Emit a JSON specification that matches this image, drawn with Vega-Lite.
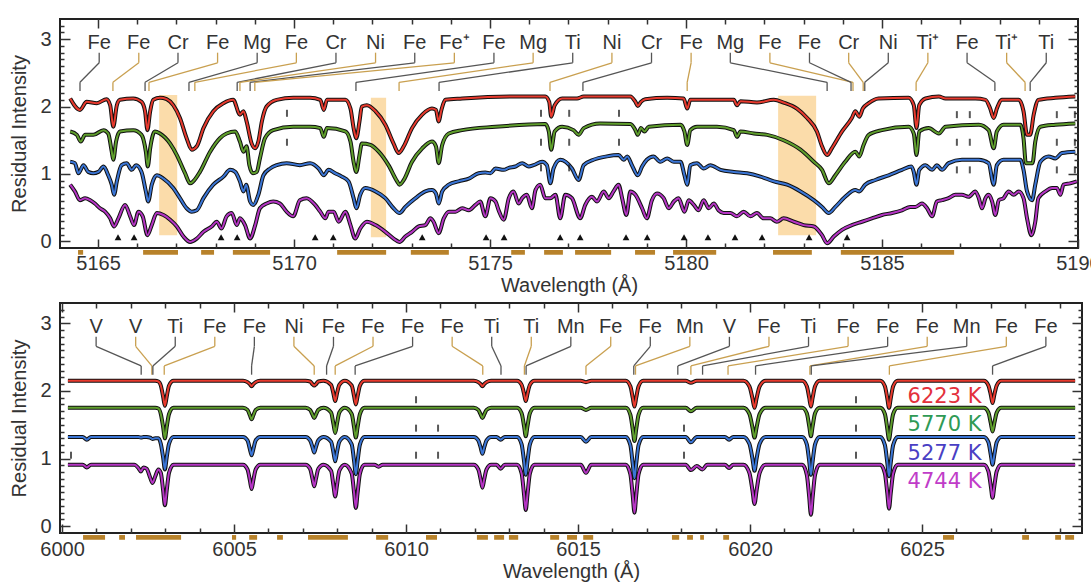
{
"$schema": "https://vega.github.io/schema/vega-lite/v6.json",
"padding": {"left": 8, "top": 14, "right": 0, "bottom": 0},
"spacing": 2,
"config": {
 "font": "Liberation Sans",
 "view": {"stroke": "#222", "strokeWidth": 2},
 "axis": {"domain": false, "grid": false, "labelFont": "Liberation Sans", "labelFontSize": 20, "labelColor": "#333", "titleFont": "Liberation Sans", "titleFontSize": 20, "titleFontWeight": "normal", "titleColor": "#333", "tickColor": "#333", "tickWidth": 1.5, "labelFlush": false, "labelOverlap": false}
},
"datasets": {
 "tspec": [
{"s":"r","x":5164.29,"y":2.12},{"s":"r","x":5164.54,"y":1.95},{"s":"r","x":5164.71,"y":2.07},{"s":"r","x":5164.97,"y":2.05},{"s":"r","x":5165.22,"y":2.11},{"s":"r","x":5165.31,"y":2.02},{"s":"r","x":5165.39,"y":1.70},{"s":"r","x":5165.48,"y":2.02},{"s":"r","x":5165.56,"y":2.10},{"s":"r","x":5165.90,"y":2.12},{"s":"r","x":5166.11,"y":2.07},{"s":"r","x":5166.20,"y":1.93},{"s":"r","x":5166.26,"y":1.65},{"s":"r","x":5166.33,"y":1.93},{"s":"r","x":5166.41,"y":2.10},{"s":"r","x":5166.58,"y":2.13},{"s":"r","x":5166.75,"y":2.11},{"s":"r","x":5166.92,"y":2.02},{"s":"r","x":5167.09,"y":1.83},{"s":"r","x":5167.26,"y":1.53},{"s":"r","x":5167.39,"y":1.36},{"s":"r","x":5167.52,"y":1.41},{"s":"r","x":5167.69,"y":1.68},{"s":"r","x":5167.94,"y":1.93},{"s":"r","x":5168.20,"y":2.05},{"s":"r","x":5168.45,"y":2.10},{"s":"r","x":5168.62,"y":1.88},{"s":"r","x":5168.71,"y":1.93},{"s":"r","x":5168.79,"y":1.78},{"s":"r","x":5168.92,"y":1.45},{"s":"r","x":5169.01,"y":1.38},{"s":"r","x":5169.09,"y":1.48},{"s":"r","x":5169.18,"y":1.78},{"s":"r","x":5169.30,"y":2.00},{"s":"r","x":5169.56,"y":2.10},{"s":"r","x":5169.98,"y":2.13},{"s":"r","x":5170.41,"y":2.13},{"s":"r","x":5170.67,"y":2.10},{"s":"r","x":5170.76,"y":1.95},{"s":"r","x":5170.84,"y":2.10},{"s":"r","x":5171.31,"y":2.10},{"s":"r","x":5171.44,"y":1.97},{"s":"r","x":5171.52,"y":1.68},{"s":"r","x":5171.59,"y":1.53},{"s":"r","x":5171.67,"y":1.78},{"s":"r","x":5171.73,"y":2.00},{"s":"r","x":5171.86,"y":2.02},{"s":"r","x":5172.08,"y":1.93},{"s":"r","x":5172.33,"y":1.73},{"s":"r","x":5172.54,"y":1.45},{"s":"r","x":5172.67,"y":1.31},{"s":"r","x":5172.80,"y":1.41},{"s":"r","x":5173.01,"y":1.68},{"s":"r","x":5173.27,"y":1.88},{"s":"r","x":5173.52,"y":1.97},{"s":"r","x":5173.62,"y":1.95},{"s":"r","x":5173.69,"y":1.78},{"s":"r","x":5173.76,"y":1.95},{"s":"r","x":5173.86,"y":2.10},{"s":"r","x":5174.29,"y":2.12},{"s":"r","x":5175.56,"y":2.15},{"s":"r","x":5176.41,"y":2.15},{"s":"r","x":5176.51,"y":2.07},{"s":"r","x":5176.56,"y":1.85},{"s":"r","x":5176.65,"y":2.02},{"s":"r","x":5176.84,"y":2.12},{"s":"r","x":5177.22,"y":2.12},{"s":"r","x":5177.39,"y":2.15},{"s":"r","x":5178.58,"y":2.15},{"s":"r","x":5178.71,"y":2.07},{"s":"r","x":5178.77,"y":2.01},{"s":"r","x":5178.85,"y":2.07},{"s":"r","x":5178.96,"y":2.11},{"s":"r","x":5179.52,"y":2.13},{"s":"r","x":5179.94,"y":2.12},{"s":"r","x":5180.03,"y":1.97},{"s":"r","x":5180.11,"y":2.10},{"s":"r","x":5181.22,"y":2.10},{"s":"r","x":5181.30,"y":2.02},{"s":"r","x":5181.39,"y":2.08},{"s":"r","x":5181.81,"y":2.06},{"s":"r","x":5182.24,"y":2.10},{"s":"r","x":5182.49,"y":2.06},{"s":"r","x":5182.83,"y":1.97},{"s":"r","x":5183.09,"y":1.83},{"s":"r","x":5183.34,"y":1.63},{"s":"r","x":5183.47,"y":1.41},{"s":"r","x":5183.60,"y":1.28},{"s":"r","x":5183.72,"y":1.38},{"s":"r","x":5183.98,"y":1.63},{"s":"r","x":5184.23,"y":1.83},{"s":"r","x":5184.32,"y":1.93},{"s":"r","x":5184.42,"y":1.85},{"s":"r","x":5184.51,"y":1.97},{"s":"r","x":5184.66,"y":2.05},{"s":"r","x":5184.91,"y":2.12},{"s":"r","x":5185.68,"y":2.13},{"s":"r","x":5185.81,"y":2.02},{"s":"r","x":5185.88,"y":1.68},{"s":"r","x":5185.95,"y":2.02},{"s":"r","x":5186.11,"y":2.12},{"s":"r","x":5186.45,"y":2.15},{"s":"r","x":5186.62,"y":2.12},{"s":"r","x":5187.38,"y":2.12},{"s":"r","x":5187.64,"y":2.10},{"s":"r","x":5187.76,"y":1.97},{"s":"r","x":5187.85,"y":1.83},{"s":"r","x":5187.93,"y":1.97},{"s":"r","x":5188.06,"y":2.10},{"s":"r","x":5188.49,"y":2.10},{"s":"r","x":5188.61,"y":1.93},{"s":"r","x":5188.70,"y":1.58},{"s":"r","x":5188.78,"y":1.58},{"s":"r","x":5188.87,"y":1.88},{"s":"r","x":5188.99,"y":2.10},{"s":"r","x":5189.42,"y":2.13},{"s":"r","x":5189.93,"y":2.15},
{"s":"g","x":5164.29,"y":1.63},{"s":"g","x":5164.46,"y":1.58},{"s":"g","x":5164.56,"y":1.48},{"s":"g","x":5164.67,"y":1.58},{"s":"g","x":5164.88,"y":1.58},{"s":"g","x":5165.14,"y":1.65},{"s":"g","x":5165.26,"y":1.60},{"s":"g","x":5165.35,"y":1.33},{"s":"g","x":5165.39,"y":1.21},{"s":"g","x":5165.46,"y":1.48},{"s":"g","x":5165.56,"y":1.63},{"s":"g","x":5165.90,"y":1.65},{"s":"g","x":5166.11,"y":1.58},{"s":"g","x":5166.22,"y":1.33},{"s":"g","x":5166.27,"y":1.11},{"s":"g","x":5166.33,"y":1.38},{"s":"g","x":5166.45,"y":1.63},{"s":"g","x":5166.58,"y":1.60},{"s":"g","x":5166.84,"y":1.45},{"s":"g","x":5167.01,"y":1.28},{"s":"g","x":5167.22,"y":1.01},{"s":"g","x":5167.35,"y":0.86},{"s":"g","x":5167.43,"y":0.89},{"s":"g","x":5167.60,"y":1.03},{"s":"g","x":5167.86,"y":1.33},{"s":"g","x":5168.11,"y":1.53},{"s":"g","x":5168.28,"y":1.60},{"s":"g","x":5168.50,"y":1.63},{"s":"g","x":5168.62,"y":1.48},{"s":"g","x":5168.71,"y":1.33},{"s":"g","x":5168.79,"y":1.41},{"s":"g","x":5168.86,"y":1.13},{"s":"g","x":5168.95,"y":1.01},{"s":"g","x":5169.05,"y":1.03},{"s":"g","x":5169.13,"y":1.23},{"s":"g","x":5169.26,"y":1.53},{"s":"g","x":5169.47,"y":1.65},{"s":"g","x":5169.98,"y":1.70},{"s":"g","x":5170.41,"y":1.70},{"s":"g","x":5170.67,"y":1.68},{"s":"g","x":5170.76,"y":1.55},{"s":"g","x":5170.84,"y":1.68},{"s":"g","x":5171.31,"y":1.63},{"s":"g","x":5171.44,"y":1.48},{"s":"g","x":5171.52,"y":1.18},{"s":"g","x":5171.59,"y":1.03},{"s":"g","x":5171.67,"y":1.28},{"s":"g","x":5171.73,"y":1.45},{"s":"g","x":5171.95,"y":1.43},{"s":"g","x":5172.16,"y":1.33},{"s":"g","x":5172.41,"y":1.13},{"s":"g","x":5172.63,"y":0.89},{"s":"g","x":5172.69,"y":0.84},{"s":"g","x":5172.80,"y":0.91},{"s":"g","x":5173.01,"y":1.18},{"s":"g","x":5173.27,"y":1.38},{"s":"g","x":5173.52,"y":1.48},{"s":"g","x":5173.62,"y":1.41},{"s":"g","x":5173.69,"y":1.16},{"s":"g","x":5173.78,"y":1.43},{"s":"g","x":5173.95,"y":1.60},{"s":"g","x":5174.29,"y":1.65},{"s":"g","x":5175.14,"y":1.70},{"s":"g","x":5176.41,"y":1.74},{"s":"g","x":5176.50,"y":1.63},{"s":"g","x":5176.56,"y":1.36},{"s":"g","x":5176.65,"y":1.63},{"s":"g","x":5176.84,"y":1.70},{"s":"g","x":5177.13,"y":1.65},{"s":"g","x":5177.26,"y":1.58},{"s":"g","x":5177.39,"y":1.68},{"s":"g","x":5177.81,"y":1.75},{"s":"g","x":5178.58,"y":1.74},{"s":"g","x":5178.71,"y":1.65},{"s":"g","x":5178.77,"y":1.58},{"s":"g","x":5178.85,"y":1.68},{"s":"g","x":5178.94,"y":1.63},{"s":"g","x":5179.05,"y":1.70},{"s":"g","x":5179.86,"y":1.73},{"s":"g","x":5179.96,"y":1.63},{"s":"g","x":5180.03,"y":1.43},{"s":"g","x":5180.11,"y":1.65},{"s":"g","x":5180.28,"y":1.70},{"s":"g","x":5180.79,"y":1.70},{"s":"g","x":5181.22,"y":1.65},{"s":"g","x":5181.30,"y":1.55},{"s":"g","x":5181.39,"y":1.63},{"s":"g","x":5181.73,"y":1.60},{"s":"g","x":5182.07,"y":1.58},{"s":"g","x":5182.49,"y":1.50},{"s":"g","x":5182.92,"y":1.36},{"s":"g","x":5183.26,"y":1.18},{"s":"g","x":5183.47,"y":1.06},{"s":"g","x":5183.64,"y":0.86},{"s":"g","x":5183.81,"y":0.98},{"s":"g","x":5184.06,"y":1.18},{"s":"g","x":5184.32,"y":1.33},{"s":"g","x":5184.42,"y":1.26},{"s":"g","x":5184.53,"y":1.43},{"s":"g","x":5184.66,"y":1.58},{"s":"g","x":5185.00,"y":1.65},{"s":"g","x":5185.68,"y":1.70},{"s":"g","x":5185.81,"y":1.60},{"s":"g","x":5185.88,"y":1.28},{"s":"g","x":5185.95,"y":1.63},{"s":"g","x":5186.19,"y":1.68},{"s":"g","x":5186.45,"y":1.60},{"s":"g","x":5186.62,"y":1.70},{"s":"g","x":5187.47,"y":1.73},{"s":"g","x":5187.72,"y":1.65},{"s":"g","x":5187.85,"y":1.38},{"s":"g","x":5187.93,"y":1.63},{"s":"g","x":5188.10,"y":1.73},{"s":"g","x":5188.53,"y":1.73},{"s":"g","x":5188.61,"y":1.53},{"s":"g","x":5188.67,"y":1.16},{"s":"g","x":5188.84,"y":1.16},{"s":"g","x":5188.91,"y":1.48},{"s":"g","x":5189.04,"y":1.70},{"s":"g","x":5189.42,"y":1.73},{"s":"g","x":5189.93,"y":1.75},
{"s":"b","x":5164.29,"y":1.18},{"s":"b","x":5164.41,"y":1.16},{"s":"b","x":5164.50,"y":1.01},{"s":"b","x":5164.63,"y":1.13},{"s":"b","x":5164.75,"y":1.03},{"s":"b","x":5164.88,"y":1.01},{"s":"b","x":5165.01,"y":1.03},{"s":"b","x":5165.14,"y":1.11},{"s":"b","x":5165.26,"y":0.98},{"s":"b","x":5165.35,"y":0.84},{"s":"b","x":5165.41,"y":0.69},{"s":"b","x":5165.48,"y":0.89},{"s":"b","x":5165.60,"y":1.13},{"s":"b","x":5165.73,"y":1.16},{"s":"b","x":5165.86,"y":1.06},{"s":"b","x":5165.97,"y":1.13},{"s":"b","x":5166.11,"y":1.03},{"s":"b","x":5166.22,"y":0.74},{"s":"b","x":5166.28,"y":0.59},{"s":"b","x":5166.37,"y":0.84},{"s":"b","x":5166.50,"y":0.98},{"s":"b","x":5166.67,"y":0.93},{"s":"b","x":5166.92,"y":0.79},{"s":"b","x":5167.09,"y":0.64},{"s":"b","x":5167.26,"y":0.49},{"s":"b","x":5167.39,"y":0.44},{"s":"b","x":5167.52,"y":0.46},{"s":"b","x":5167.69,"y":0.64},{"s":"b","x":5167.94,"y":0.84},{"s":"b","x":5168.20,"y":0.96},{"s":"b","x":5168.37,"y":1.06},{"s":"b","x":5168.50,"y":1.03},{"s":"b","x":5168.62,"y":0.89},{"s":"b","x":5168.71,"y":0.74},{"s":"b","x":5168.78,"y":0.84},{"s":"b","x":5168.88,"y":0.59},{"s":"b","x":5168.96,"y":0.54},{"s":"b","x":5169.09,"y":0.69},{"s":"b","x":5169.22,"y":0.98},{"s":"b","x":5169.39,"y":1.08},{"s":"b","x":5169.56,"y":1.13},{"s":"b","x":5169.81,"y":1.16},{"s":"b","x":5170.15,"y":1.13},{"s":"b","x":5170.41,"y":1.16},{"s":"b","x":5170.63,"y":1.08},{"s":"b","x":5170.76,"y":0.98},{"s":"b","x":5170.88,"y":1.06},{"s":"b","x":5171.05,"y":1.01},{"s":"b","x":5171.22,"y":0.96},{"s":"b","x":5171.39,"y":0.89},{"s":"b","x":5171.52,"y":0.64},{"s":"b","x":5171.59,"y":0.49},{"s":"b","x":5171.69,"y":0.69},{"s":"b","x":5171.82,"y":0.79},{"s":"b","x":5172.08,"y":0.74},{"s":"b","x":5172.33,"y":0.64},{"s":"b","x":5172.54,"y":0.49},{"s":"b","x":5172.69,"y":0.42},{"s":"b","x":5172.84,"y":0.51},{"s":"b","x":5173.10,"y":0.64},{"s":"b","x":5173.35,"y":0.74},{"s":"b","x":5173.52,"y":0.76},{"s":"b","x":5173.62,"y":0.71},{"s":"b","x":5173.69,"y":0.56},{"s":"b","x":5173.78,"y":0.74},{"s":"b","x":5173.95,"y":0.84},{"s":"b","x":5174.20,"y":0.89},{"s":"b","x":5174.46,"y":0.93},{"s":"b","x":5174.71,"y":1.01},{"s":"b","x":5174.88,"y":1.02},{"s":"b","x":5175.01,"y":1.01},{"s":"b","x":5175.14,"y":1.08},{"s":"b","x":5175.35,"y":1.06},{"s":"b","x":5175.48,"y":1.09},{"s":"b","x":5175.65,"y":1.11},{"s":"b","x":5175.82,"y":1.16},{"s":"b","x":5175.99,"y":1.11},{"s":"b","x":5176.11,"y":1.13},{"s":"b","x":5176.33,"y":1.18},{"s":"b","x":5176.45,"y":1.13},{"s":"b","x":5176.54,"y":0.86},{"s":"b","x":5176.62,"y":1.08},{"s":"b","x":5176.79,"y":1.21},{"s":"b","x":5177.09,"y":1.08},{"s":"b","x":5177.26,"y":0.91},{"s":"b","x":5177.39,"y":1.13},{"s":"b","x":5177.64,"y":1.21},{"s":"b","x":5177.98,"y":1.26},{"s":"b","x":5178.28,"y":1.28},{"s":"b","x":5178.41,"y":1.21},{"s":"b","x":5178.50,"y":1.26},{"s":"b","x":5178.62,"y":1.13},{"s":"b","x":5178.77,"y":0.98},{"s":"b","x":5178.88,"y":1.11},{"s":"b","x":5179.00,"y":1.21},{"s":"b","x":5179.17,"y":1.26},{"s":"b","x":5179.34,"y":1.18},{"s":"b","x":5179.52,"y":1.23},{"s":"b","x":5179.69,"y":1.18},{"s":"b","x":5179.86,"y":1.18},{"s":"b","x":5179.96,"y":0.98},{"s":"b","x":5180.03,"y":0.84},{"s":"b","x":5180.11,"y":1.13},{"s":"b","x":5180.28,"y":1.16},{"s":"b","x":5180.45,"y":1.08},{"s":"b","x":5180.62,"y":1.13},{"s":"b","x":5180.88,"y":1.06},{"s":"b","x":5181.22,"y":1.03},{"s":"b","x":5181.56,"y":1.01},{"s":"b","x":5181.90,"y":0.96},{"s":"b","x":5182.24,"y":0.89},{"s":"b","x":5182.58,"y":0.84},{"s":"b","x":5182.92,"y":0.74},{"s":"b","x":5183.26,"y":0.61},{"s":"b","x":5183.47,"y":0.51},{"s":"b","x":5183.64,"y":0.42},{"s":"b","x":5183.81,"y":0.51},{"s":"b","x":5184.06,"y":0.66},{"s":"b","x":5184.32,"y":0.76},{"s":"b","x":5184.42,"y":0.74},{"s":"b","x":5184.57,"y":0.84},{"s":"b","x":5184.83,"y":0.91},{"s":"b","x":5185.17,"y":0.98},{"s":"b","x":5185.51,"y":1.06},{"s":"b","x":5185.75,"y":1.11},{"s":"b","x":5185.81,"y":1.03},{"s":"b","x":5185.88,"y":0.84},{"s":"b","x":5185.95,"y":1.06},{"s":"b","x":5186.11,"y":1.13},{"s":"b","x":5186.28,"y":1.06},{"s":"b","x":5186.40,"y":1.13},{"s":"b","x":5186.53,"y":1.06},{"s":"b","x":5186.70,"y":1.16},{"s":"b","x":5187.04,"y":1.21},{"s":"b","x":5187.47,"y":1.21},{"s":"b","x":5187.72,"y":1.16},{"s":"b","x":5187.85,"y":0.84},{"s":"b","x":5187.93,"y":1.13},{"s":"b","x":5188.10,"y":1.21},{"s":"b","x":5188.53,"y":1.21},{"s":"b","x":5188.61,"y":1.06},{"s":"b","x":5188.70,"y":0.74},{"s":"b","x":5188.83,"y":0.61},{"s":"b","x":5188.91,"y":0.84},{"s":"b","x":5189.04,"y":1.18},{"s":"b","x":5189.25,"y":1.26},{"s":"b","x":5189.42,"y":1.23},{"s":"b","x":5189.59,"y":1.31},{"s":"b","x":5189.93,"y":1.33},
{"s":"m","x":5164.29,"y":0.84},{"s":"m","x":5164.41,"y":0.74},{"s":"m","x":5164.54,"y":0.61},{"s":"m","x":5164.67,"y":0.64},{"s":"m","x":5164.80,"y":0.61},{"s":"m","x":5164.92,"y":0.56},{"s":"m","x":5165.05,"y":0.49},{"s":"m","x":5165.18,"y":0.44},{"s":"m","x":5165.31,"y":0.34},{"s":"m","x":5165.41,"y":0.22},{"s":"m","x":5165.52,"y":0.34},{"s":"m","x":5165.69,"y":0.54},{"s":"m","x":5165.82,"y":0.37},{"s":"m","x":5165.92,"y":0.24},{"s":"m","x":5166.03,"y":0.44},{"s":"m","x":5166.14,"y":0.37},{"s":"m","x":5166.26,"y":0.09},{"s":"m","x":5166.37,"y":0.24},{"s":"m","x":5166.50,"y":0.42},{"s":"m","x":5166.67,"y":0.39},{"s":"m","x":5166.84,"y":0.32},{"s":"m","x":5167.01,"y":0.22},{"s":"m","x":5167.18,"y":0.07},{"s":"m","x":5167.35,"y":-0.01},{"s":"m","x":5167.52,"y":0.04},{"s":"m","x":5167.69,"y":0.14},{"s":"m","x":5167.90,"y":0.22},{"s":"m","x":5168.03,"y":0.29},{"s":"m","x":5168.15,"y":0.19},{"s":"m","x":5168.28,"y":0.37},{"s":"m","x":5168.41,"y":0.42},{"s":"m","x":5168.54,"y":0.24},{"s":"m","x":5168.62,"y":0.34},{"s":"m","x":5168.75,"y":0.24},{"s":"m","x":5168.88,"y":0.04},{"s":"m","x":5169.01,"y":0.24},{"s":"m","x":5169.13,"y":0.49},{"s":"m","x":5169.30,"y":0.56},{"s":"m","x":5169.47,"y":0.59},{"s":"m","x":5169.64,"y":0.56},{"s":"m","x":5169.81,"y":0.44},{"s":"m","x":5169.98,"y":0.37},{"s":"m","x":5170.15,"y":0.61},{"s":"m","x":5170.32,"y":0.64},{"s":"m","x":5170.54,"y":0.54},{"s":"m","x":5170.67,"y":0.44},{"s":"m","x":5170.80,"y":0.34},{"s":"m","x":5170.88,"y":0.44},{"s":"m","x":5171.01,"y":0.44},{"s":"m","x":5171.14,"y":0.29},{"s":"m","x":5171.31,"y":0.44},{"s":"m","x":5171.44,"y":0.24},{"s":"m","x":5171.56,"y":0.04},{"s":"m","x":5171.69,"y":0.19},{"s":"m","x":5171.86,"y":0.29},{"s":"m","x":5172.08,"y":0.24},{"s":"m","x":5172.33,"y":0.14},{"s":"m","x":5172.54,"y":0.04},{"s":"m","x":5172.69,"y":-0.01},{"s":"m","x":5172.84,"y":0.07},{"s":"m","x":5173.01,"y":0.14},{"s":"m","x":5173.18,"y":0.22},{"s":"m","x":5173.35,"y":0.24},{"s":"m","x":5173.48,"y":0.34},{"s":"m","x":5173.56,"y":0.29},{"s":"m","x":5173.69,"y":0.12},{"s":"m","x":5173.82,"y":0.34},{"s":"m","x":5173.95,"y":0.44},{"s":"m","x":5174.12,"y":0.44},{"s":"m","x":5174.29,"y":0.49},{"s":"m","x":5174.46,"y":0.46},{"s":"m","x":5174.63,"y":0.54},{"s":"m","x":5174.75,"y":0.59},{"s":"m","x":5174.88,"y":0.37},{"s":"m","x":5175.01,"y":0.64},{"s":"m","x":5175.14,"y":0.59},{"s":"m","x":5175.22,"y":0.46},{"s":"m","x":5175.35,"y":0.32},{"s":"m","x":5175.48,"y":0.64},{"s":"m","x":5175.60,"y":0.74},{"s":"m","x":5175.73,"y":0.56},{"s":"m","x":5175.82,"y":0.64},{"s":"m","x":5175.94,"y":0.69},{"s":"m","x":5176.07,"y":0.49},{"s":"m","x":5176.16,"y":0.76},{"s":"m","x":5176.28,"y":0.84},{"s":"m","x":5176.41,"y":0.64},{"s":"m","x":5176.54,"y":0.64},{"s":"m","x":5176.67,"y":0.69},{"s":"m","x":5176.79,"y":0.34},{"s":"m","x":5176.92,"y":0.69},{"s":"m","x":5177.09,"y":0.64},{"s":"m","x":5177.30,"y":0.34},{"s":"m","x":5177.43,"y":0.54},{"s":"m","x":5177.60,"y":0.66},{"s":"m","x":5177.73,"y":0.59},{"s":"m","x":5177.90,"y":0.74},{"s":"m","x":5178.03,"y":0.64},{"s":"m","x":5178.15,"y":0.74},{"s":"m","x":5178.28,"y":0.84},{"s":"m","x":5178.37,"y":0.64},{"s":"m","x":5178.48,"y":0.39},{"s":"m","x":5178.58,"y":0.74},{"s":"m","x":5178.71,"y":0.69},{"s":"m","x":5178.88,"y":0.49},{"s":"m","x":5179.00,"y":0.34},{"s":"m","x":5179.13,"y":0.61},{"s":"m","x":5179.26,"y":0.71},{"s":"m","x":5179.43,"y":0.64},{"s":"m","x":5179.56,"y":0.49},{"s":"m","x":5179.69,"y":0.59},{"s":"m","x":5179.81,"y":0.64},{"s":"m","x":5179.96,"y":0.44},{"s":"m","x":5180.07,"y":0.61},{"s":"m","x":5180.20,"y":0.54},{"s":"m","x":5180.32,"y":0.46},{"s":"m","x":5180.45,"y":0.61},{"s":"m","x":5180.58,"y":0.49},{"s":"m","x":5180.71,"y":0.56},{"s":"m","x":5180.83,"y":0.46},{"s":"m","x":5180.96,"y":0.42},{"s":"m","x":5181.13,"y":0.42},{"s":"m","x":5181.30,"y":0.37},{"s":"m","x":5181.47,"y":0.44},{"s":"m","x":5181.64,"y":0.37},{"s":"m","x":5181.81,"y":0.42},{"s":"m","x":5181.98,"y":0.34},{"s":"m","x":5182.15,"y":0.34},{"s":"m","x":5182.32,"y":0.29},{"s":"m","x":5182.49,"y":0.34},{"s":"m","x":5182.75,"y":0.29},{"s":"m","x":5183.00,"y":0.24},{"s":"m","x":5183.26,"y":0.22},{"s":"m","x":5183.47,"y":0.09},{"s":"m","x":5183.60,"y":-0.03},{"s":"m","x":5183.77,"y":0.07},{"s":"m","x":5183.98,"y":0.17},{"s":"m","x":5184.23,"y":0.24},{"s":"m","x":5184.49,"y":0.29},{"s":"m","x":5184.74,"y":0.34},{"s":"m","x":5185.00,"y":0.39},{"s":"m","x":5185.26,"y":0.42},{"s":"m","x":5185.51,"y":0.46},{"s":"m","x":5185.72,"y":0.51},{"s":"m","x":5185.85,"y":0.51},{"s":"m","x":5186.02,"y":0.56},{"s":"m","x":5186.15,"y":0.49},{"s":"m","x":5186.28,"y":0.37},{"s":"m","x":5186.40,"y":0.59},{"s":"m","x":5186.53,"y":0.61},{"s":"m","x":5186.70,"y":0.64},{"s":"m","x":5186.87,"y":0.69},{"s":"m","x":5187.04,"y":0.69},{"s":"m","x":5187.21,"y":0.66},{"s":"m","x":5187.38,"y":0.74},{"s":"m","x":5187.47,"y":0.64},{"s":"m","x":5187.55,"y":0.49},{"s":"m","x":5187.64,"y":0.64},{"s":"m","x":5187.72,"y":0.69},{"s":"m","x":5187.81,"y":0.59},{"s":"m","x":5187.89,"y":0.39},{"s":"m","x":5187.98,"y":0.61},{"s":"m","x":5188.10,"y":0.64},{"s":"m","x":5188.23,"y":0.74},{"s":"m","x":5188.36,"y":0.69},{"s":"m","x":5188.49,"y":0.74},{"s":"m","x":5188.61,"y":0.64},{"s":"m","x":5188.70,"y":0.34},{"s":"m","x":5188.81,"y":0.09},{"s":"m","x":5188.91,"y":0.29},{"s":"m","x":5188.99,"y":0.64},{"s":"m","x":5189.17,"y":0.74},{"s":"m","x":5189.34,"y":0.79},{"s":"m","x":5189.46,"y":0.79},{"s":"m","x":5189.55,"y":0.69},{"s":"m","x":5189.63,"y":0.84},{"s":"m","x":5189.80,"y":0.86},{"s":"m","x":5189.97,"y":0.89}
 ],
 "bspec": [
{"x":6000.17,"r":2.15,"g":1.75,"b":1.32,"m":0.91},{"x":6000.60,"r":2.15,"g":1.75,"b":1.32,"m":0.91},{"x":6000.72,"r":2.15,"g":1.75,"b":1.28,"m":0.87},{"x":6000.84,"r":2.15,"g":1.75,"b":1.32,"m":0.91},
{"x":6002.10,"r":2.15,"g":1.75,"b":1.32,"m":0.91},{"x":6002.22,"r":2.15,"g":1.75,"b":1.32,"m":0.86},{"x":6002.29,"r":2.15,"g":1.75,"b":1.31,"m":0.81},{"x":6002.37,"r":2.15,"g":1.75,"b":1.32,"m":0.87},{"x":6002.46,"r":2.15,"g":1.75,"b":1.32,"m":0.85},{"x":6002.56,"r":2.15,"g":1.75,"b":1.31,"m":0.72},{"x":6002.63,"r":2.15,"g":1.75,"b":1.29,"m":0.64},{"x":6002.71,"r":2.15,"g":1.75,"b":1.30,"m":0.74},{"x":6002.80,"r":2.14,"g":1.74,"b":1.30,"m":0.84},{"x":6002.87,"r":2.08,"g":1.66,"b":1.22,"m":0.79},{"x":6002.94,"r":1.91,"g":1.46,"b":1.01,"m":0.52},{"x":6002.99,"r":1.78,"g":1.30,"b":0.84,"m":0.31},{"x":6003.04,"r":1.91,"g":1.46,"b":1.01,"m":0.52},{"x":6003.11,"r":2.08,"g":1.66,"b":1.22,"m":0.79},{"x":6003.24,"r":2.15,"g":1.75,"b":1.32,"m":0.91},
{"x":6005.26,"r":2.15,"g":1.75,"b":1.32,"m":0.91},{"x":6005.39,"r":2.13,"g":1.72,"b":1.27,"m":0.84},{"x":6005.46,"r":2.10,"g":1.64,"b":1.14,"m":0.68},{"x":6005.51,"r":2.07,"g":1.58,"b":1.05,"m":0.55},{"x":6005.56,"r":2.10,"g":1.64,"b":1.14,"m":0.68},{"x":6005.63,"r":2.13,"g":1.72,"b":1.27,"m":0.84},{"x":6005.76,"r":2.15,"g":1.75,"b":1.32,"m":0.91},
{"x":6007.08,"r":2.15,"g":1.75,"b":1.32,"m":0.91},{"x":6007.21,"r":2.14,"g":1.72,"b":1.27,"m":0.85},{"x":6007.28,"r":2.10,"g":1.65,"b":1.17,"m":0.70},{"x":6007.33,"r":2.08,"g":1.60,"b":1.09,"m":0.59},{"x":6007.38,"r":2.10,"g":1.65,"b":1.17,"m":0.70},{"x":6007.45,"r":2.14,"g":1.72,"b":1.27,"m":0.85},{"x":6007.60,"r":2.15,"g":1.75,"b":1.32,"m":0.91},
{"x":6007.82,"r":2.09,"g":1.68,"b":1.25,"m":0.82},{"x":6007.89,"r":1.96,"g":1.51,"b":1.09,"m":0.60},{"x":6007.94,"r":1.85,"g":1.38,"b":0.96,"m":0.44},{"x":6007.99,"r":1.96,"g":1.51,"b":1.09,"m":0.60},{"x":6008.06,"r":2.09,"g":1.68,"b":1.25,"m":0.82},{"x":6008.22,"r":2.15,"g":1.75,"b":1.32,"m":0.91},
{"x":6008.42,"r":2.08,"g":1.66,"b":1.21,"m":0.78},{"x":6008.49,"r":1.92,"g":1.46,"b":0.96,"m":0.49},{"x":6008.54,"r":1.80,"g":1.31,"b":0.77,"m":0.27},{"x":6008.59,"r":1.92,"g":1.46,"b":0.96,"m":0.49},{"x":6008.66,"r":2.08,"g":1.66,"b":1.21,"m":0.78},{"x":6008.79,"r":2.15,"g":1.75,"b":1.32,"m":0.91},
{"x":6009.08,"r":2.15,"g":1.75,"b":1.32,"m":0.91},{"x":6009.20,"r":2.15,"g":1.75,"b":1.32,"m":0.88},{"x":6009.32,"r":2.15,"g":1.75,"b":1.32,"m":0.91},
{"x":6011.97,"r":2.15,"g":1.75,"b":1.32,"m":0.91},{"x":6012.10,"r":2.13,"g":1.72,"b":1.27,"m":0.84},{"x":6012.17,"r":2.10,"g":1.65,"b":1.16,"m":0.69},{"x":6012.22,"r":2.07,"g":1.60,"b":1.07,"m":0.57},{"x":6012.27,"r":2.10,"g":1.65,"b":1.16,"m":0.69},{"x":6012.34,"r":2.13,"g":1.72,"b":1.27,"m":0.84},{"x":6012.47,"r":2.15,"g":1.75,"b":1.32,"m":0.91},
{"x":6012.63,"r":2.15,"g":1.75,"b":1.32,"m":0.91},{"x":6012.75,"r":2.15,"g":1.75,"b":1.28,"m":0.85},{"x":6012.87,"r":2.15,"g":1.75,"b":1.32,"m":0.91},
{"x":6013.23,"r":2.15,"g":1.75,"b":1.32,"m":0.91},{"x":6013.36,"r":2.09,"g":1.67,"b":1.21,"m":0.78},{"x":6013.43,"r":1.96,"g":1.48,"b":0.96,"m":0.47},{"x":6013.48,"r":1.85,"g":1.33,"b":0.76,"m":0.24},{"x":6013.53,"r":1.96,"g":1.48,"b":0.96,"m":0.47},{"x":6013.60,"r":2.09,"g":1.67,"b":1.21,"m":0.78},{"x":6013.73,"r":2.15,"g":1.75,"b":1.32,"m":0.91},
{"x":6015.08,"r":2.15,"g":1.75,"b":1.32,"m":0.91},{"x":6015.23,"r":2.13,"g":1.72,"b":1.25,"m":0.79},{"x":6015.38,"r":2.15,"g":1.75,"b":1.32,"m":0.91},
{"x":6016.39,"r":2.15,"g":1.75,"b":1.32,"m":0.91},{"x":6016.52,"r":2.07,"g":1.65,"b":1.20,"m":0.77},{"x":6016.59,"r":1.90,"g":1.43,"b":0.92,"m":0.45},{"x":6016.64,"r":1.77,"g":1.26,"b":0.71,"m":0.20},{"x":6016.69,"r":1.90,"g":1.43,"b":0.92,"m":0.45},{"x":6016.76,"r":2.07,"g":1.65,"b":1.20,"m":0.77},{"x":6016.89,"r":2.15,"g":1.75,"b":1.32,"m":0.91},
{"x":6018.13,"r":2.15,"g":1.75,"b":1.32,"m":0.91},{"x":6018.28,"r":2.12,"g":1.70,"b":1.24,"m":0.83},{"x":6018.45,"r":2.15,"g":1.75,"b":1.32,"m":0.89},{"x":6018.62,"r":2.15,"g":1.75,"b":1.32,"m":0.84},{"x":6018.75,"r":2.15,"g":1.75,"b":1.32,"m":0.91},
{"x":6019.27,"r":2.15,"g":1.75,"b":1.32,"m":0.91},{"x":6019.39,"r":2.15,"g":1.75,"b":1.28,"m":0.86},{"x":6019.51,"r":2.15,"g":1.75,"b":1.32,"m":0.91},
{"x":6019.81,"r":2.15,"g":1.75,"b":1.32,"m":0.91},{"x":6019.98,"r":2.07,"g":1.66,"b":1.22,"m":0.79},{"x":6020.07,"r":1.89,"g":1.46,"b":1.00,"m":0.53},{"x":6020.13,"r":1.75,"g":1.31,"b":0.82,"m":0.33},{"x":6020.19,"r":1.89,"g":1.46,"b":1.00,"m":0.53},{"x":6020.28,"r":2.07,"g":1.66,"b":1.22,"m":0.79},{"x":6020.45,"r":2.15,"g":1.75,"b":1.32,"m":0.91},
{"x":6021.52,"r":2.15,"g":1.75,"b":1.32,"m":0.91},{"x":6021.65,"r":2.07,"g":1.67,"b":1.21,"m":0.76},{"x":6021.72,"r":1.90,"g":1.48,"b":0.96,"m":0.43},{"x":6021.77,"r":1.77,"g":1.33,"b":0.76,"m":0.17},{"x":6021.82,"r":1.90,"g":1.48,"b":0.96,"m":0.43},{"x":6021.89,"r":2.07,"g":1.67,"b":1.21,"m":0.76},{"x":6022.02,"r":2.15,"g":1.75,"b":1.32,"m":0.91},
{"x":6023.79,"r":2.15,"g":1.75,"b":1.32,"m":0.91},{"x":6023.92,"r":2.07,"g":1.66,"b":1.20,"m":0.78},{"x":6023.99,"r":1.89,"g":1.44,"b":0.94,"m":0.49},{"x":6024.04,"r":1.75,"g":1.28,"b":0.74,"m":0.26},{"x":6024.09,"r":1.89,"g":1.44,"b":0.94,"m":0.49},{"x":6024.16,"r":2.07,"g":1.66,"b":1.20,"m":0.78},{"x":6024.29,"r":2.15,"g":1.75,"b":1.32,"m":0.91},
{"x":6026.80,"r":2.15,"g":1.75,"b":1.32,"m":0.91},{"x":6026.93,"r":2.08,"g":1.68,"b":1.24,"m":0.81},{"x":6027.00,"r":1.94,"g":1.52,"b":1.05,"m":0.59},{"x":6027.05,"r":1.82,"g":1.40,"b":0.91,"m":0.42},{"x":6027.10,"r":1.94,"g":1.52,"b":1.05,"m":0.59},{"x":6027.17,"r":2.08,"g":1.68,"b":1.24,"m":0.81},{"x":6027.30,"r":2.15,"g":1.75,"b":1.32,"m":0.91},
{"x":6029.45,"r":2.15,"g":1.75,"b":1.32,"m":0.91}
 ],
 "tlab": [
{"n":"Fe","lx":5165.03,"tx":5164.54,"c":"k"},{"n":"Fe","lx":5166.04,"tx":5165.38,"c":"o"},{"n":"Cr","lx":5167.04,"tx":5166.20,"c":"k"},{"n":"Fe","lx":5168.05,"tx":5166.30,"c":"o"},{"n":"Mg","lx":5169.06,"tx":5167.32,"c":"k"},{"n":"Fe","lx":5170.06,"tx":5167.47,"c":"o"},{"n":"Cr","lx":5171.07,"tx":5168.55,"c":"k"},{"n":"Ni","lx":5172.08,"tx":5168.62,"c":"o"},{"n":"Fe","lx":5173.08,"tx":5168.88,"c":"k"},{"n":"Fe⁺","lx":5174.09,"tx":5169.00,"c":"o"},{"n":"Fe","lx":5175.10,"tx":5171.58,"c":"k"},{"n":"Mg","lx":5176.10,"tx":5172.68,"c":"o"},{"n":"Ti","lx":5177.11,"tx":5173.70,"c":"k"},{"n":"Ni","lx":5178.11,"tx":5176.53,"c":"o"},{"n":"Cr","lx":5179.12,"tx":5177.37,"c":"k"},{"n":"Fe","lx":5180.13,"tx":5180.03,"c":"o"},{"n":"Mg","lx":5181.13,"tx":5183.60,"c":"k"},{"n":"Fe","lx":5182.14,"tx":5184.26,"c":"o"},{"n":"Fe","lx":5183.15,"tx":5184.21,"c":"k"},{"n":"Cr","lx":5184.15,"tx":5184.52,"c":"o"},{"n":"Ni","lx":5185.16,"tx":5184.56,"c":"k"},{"n":"Ti⁺","lx":5186.17,"tx":5185.87,"c":"o"},{"n":"Fe","lx":5187.17,"tx":5187.88,"c":"k"},{"n":"Ti⁺","lx":5188.18,"tx":5188.65,"c":"o"},{"n":"Ti","lx":5189.19,"tx":5188.78,"c":"k"}
 ],
 "blab": [
{"n":"V","lx":6000.99,"tx":6002.30,"c":"k"},{"n":"V","lx":6002.14,"tx":6002.61,"c":"o"},{"n":"Ti","lx":6003.29,"tx":6002.64,"c":"k"},{"n":"Fe","lx":6004.44,"tx":6002.97,"c":"o"},{"n":"Fe","lx":6005.59,"tx":6005.51,"c":"k"},{"n":"Ni","lx":6006.74,"tx":6007.33,"c":"o"},{"n":"Fe","lx":6007.89,"tx":6007.69,"c":"k"},{"n":"Fe","lx":6009.04,"tx":6007.94,"c":"o"},{"n":"Fe","lx":6010.19,"tx":6008.52,"c":"k"},{"n":"Fe","lx":6011.34,"tx":6012.23,"c":"o"},{"n":"Ti","lx":6012.49,"tx":6012.76,"c":"k"},{"n":"Ti","lx":6013.64,"tx":6013.44,"c":"o"},{"n":"Mn","lx":6014.79,"tx":6013.49,"c":"k"},{"n":"Fe","lx":6015.95,"tx":6015.23,"c":"o"},{"n":"Fe","lx":6017.10,"tx":6016.62,"c":"k"},{"n":"Mn","lx":6018.25,"tx":6016.67,"c":"o"},{"n":"V","lx":6019.40,"tx":6017.90,"c":"k"},{"n":"Fe","lx":6020.55,"tx":6018.28,"c":"o"},{"n":"Ti","lx":6021.70,"tx":6018.62,"c":"k"},{"n":"Fe","lx":6022.85,"tx":6019.36,"c":"o"},{"n":"Fe","lx":6024.00,"tx":6020.16,"c":"k"},{"n":"Fe","lx":6025.15,"tx":6021.74,"c":"o"},{"n":"Mn","lx":6026.30,"tx":6021.78,"c":"k"},{"n":"Fe","lx":6027.45,"tx":6024.05,"c":"o"},{"n":"Fe","lx":6028.60,"tx":6027.05,"c":"k"}
 ],
 "tshade": [
{"x1":5166.56,"x2":5167.02,"y1":0.09,"y2":2.17},{"x1":5171.96,"x2":5172.35,"y1":0.06,"y2":2.13},{"x1":5182.35,"x2":5183.32,"y1":0.09,"y2":2.16}
 ],
 "tbar": [
{"x1":5164.49,"x2":5164.62},{"x1":5166.15,"x2":5167.04},{"x1":5167.63,"x2":5167.96},{"x1":5168.44,"x2":5169.39},{"x1":5171.10,"x2":5172.35},{"x1":5172.98,"x2":5173.95},{"x1":5175.54,"x2":5175.89},{"x1":5176.38,"x2":5176.86},{"x1":5177.17,"x2":5178.09},{"x1":5178.70,"x2":5179.21},{"x1":5179.67,"x2":5180.77},{"x1":5182.22,"x2":5183.21},{"x1":5183.95,"x2":5186.84}
 ],
 "bbar": [
{"x1":6000.61,"x2":6001.25},{"x1":6001.66,"x2":6001.83},{"x1":6002.15,"x2":6003.46},{"x1":6004.94,"x2":6005.06},{"x1":6005.44,"x2":6005.67},{"x1":6006.25,"x2":6006.42},{"x1":6007.15,"x2":6008.31},{"x1":6009.13,"x2":6009.48},{"x1":6010.58,"x2":6010.90},{"x1":6012.06,"x2":6012.38},{"x1":6012.56,"x2":6012.85},{"x1":6012.99,"x2":6013.26},{"x1":6014.19,"x2":6014.45},{"x1":6014.68,"x2":6014.97},{"x1":6015.15,"x2":6015.44},{"x1":6017.73,"x2":6017.94},{"x1":6018.17,"x2":6018.34},{"x1":6018.55,"x2":6018.66},{"x1":6019.22,"x2":6019.39},{"x1":6025.61,"x2":6025.93},{"x1":6027.91,"x2":6028.11},{"x1":6028.87,"x2":6029.04},{"x1":6029.16,"x2":6029.42}
 ],
 "ttick": [
{"x":5169.82,"y":1.90},{"x":5169.82,"y":1.47},{"x":5176.30,"y":1.90},{"x":5176.30,"y":1.47},{"x":5176.30,"y":1.09},{"x":5177.02,"y":1.90},{"x":5177.02,"y":1.47},{"x":5177.02,"y":1.09},{"x":5178.29,"y":1.90},{"x":5178.29,"y":1.47},{"x":5186.91,"y":1.88},{"x":5186.91,"y":1.47},{"x":5186.91,"y":1.06},{"x":5187.24,"y":1.88},{"x":5187.24,"y":1.47},{"x":5187.24,"y":1.06},{"x":5189.46,"y":1.88},{"x":5189.46,"y":1.47},{"x":5189.46,"y":1.06},{"x":5189.92,"y":1.88},{"x":5189.92,"y":1.47},{"x":5189.92,"y":1.06}
 ],
 "btick": [
{"x":6000.26,"y":1.05},{"x":6010.29,"y":1.87},{"x":6010.29,"y":1.45},{"x":6010.29,"y":1.05},{"x":6010.93,"y":1.45},{"x":6010.93,"y":1.05},{"x":6018.08,"y":1.45},{"x":6018.08,"y":1.05},{"x":6023.08,"y":1.87},{"x":6023.08,"y":1.45},{"x":6023.08,"y":1.05}
 ],
 "ttri": [
{"x":5165.51},{"x":5165.92},{"x":5168.14},{"x":5168.55},{"x":5170.54},{"x":5171.00},{"x":5173.27},{"x":5174.90},{"x":5175.36},{"x":5176.79},{"x":5177.30},{"x":5178.47},{"x":5179.01},{"x":5179.95},{"x":5180.56},{"x":5181.25},{"x":5181.94},{"x":5183.14},{"x":5184.11}
 ],
 "temps": [
{"t":"6223 K","y":1.91},{"t":"5770 K","y":1.49},{"t":"5277 K","y":1.07},{"t":"4744 K","y":0.66}
 ]
},
"vconcat": [
{
 "width": 1018, "height": 229,
 "layer": [
  {"data": {"name": "tshade"}, "mark": {"type": "rect", "color": "#fbdcaa"},
   "encoding": {"x": {"field": "x1", "type": "quantitative", "scale": {"domain": [5164.03, 5190.0], "nice": false, "zero": false}, "axis": null}, "x2": {"field": "x2"},
    "y": {"field": "y1", "type": "quantitative", "scale": {"domain": [-0.1, 3.3], "nice": false, "zero": false}, "axis": null}, "y2": {"field": "y2"}}},
  {"data": {"name": "tspec"}, "mark": {"type": "line", "color": "#111", "strokeWidth": 4, "interpolate": "monotone"},
   "encoding": {"x": {"field": "x", "type": "quantitative", "scale": {"domain": [5164.03, 5190.0], "nice": false, "zero": false}, "axis": null},
    "y": {"field": "y", "type": "quantitative", "scale": {"domain": [-0.1, 3.3], "nice": false, "zero": false}, "axis": null}, "detail": {"field": "s"}}},
  {"data": {"name": "tspec"}, "mark": {"type": "line", "strokeWidth": 2, "interpolate": "monotone"},
   "encoding": {"x": {"field": "x", "type": "quantitative", "scale": {"domain": [5164.03, 5190.0], "nice": false, "zero": false}, "axis": null},
    "y": {"field": "y", "type": "quantitative", "scale": {"domain": [-0.1, 3.3], "nice": false, "zero": false}, "axis": null},
    "color": {"field": "s", "type": "nominal", "scale": {"domain": ["r", "g", "b", "m"], "range": ["#e83a2e", "#5f9e2c", "#3b76d6", "#b535c4"]}, "legend": null}}},
  {"data": {"name": "ttick"}, "mark": {"type": "tick", "orient": "vertical", "size": 7, "thickness": 2, "color": "#111"},
   "encoding": {"x": {"field": "x", "type": "quantitative", "scale": {"domain": [5164.03, 5190.0], "nice": false, "zero": false},
     "axis": {"orient": "top", "labels": false, "title": null, "values": [5165,5166,5167,5168,5169,5170,5171,5172,5173,5174,5175,5176,5177,5178,5179,5180,5181,5182,5183,5184,5185,5186,5187,5188,5189], "tickSize": {"condition": {"test": "datum.value % 5 === 0", "value": -9}, "value": -5}}},
    "y": {"field": "y", "type": "quantitative", "scale": {"domain": [-0.1, 3.3], "nice": false, "zero": false},
     "axis": {"orient": "right", "labels": false, "title": null, "values": [0,0.1,0.2,0.3,0.4,0.5,0.6,0.7,0.8,0.9,1,1.1,1.2,1.3,1.4,1.5,1.6,1.7,1.8,1.9,2,2.1,2.2,2.3,2.4,2.5,2.6,2.7,2.8,2.9,3,3.1,3.2], "tickSize": {"condition": {"test": "datum.value % 1 === 0", "value": -10}, "value": -4}}}}},
  {"data": {"name": "ttri"}, "mark": {"type": "point", "shape": "triangle-up", "filled": true, "color": "#111", "size": 45, "opacity": 1},
   "encoding": {"x": {"field": "x", "type": "quantitative", "scale": {"domain": [5164.03, 5190.0], "nice": false, "zero": false}, "axis": null},
    "y": {"datum": 0.06, "type": "quantitative", "scale": {"domain": [-0.1, 3.3], "nice": false, "zero": false}, "axis": null}}},
  {"data": {"name": "tlab"}, "mark": {"type": "rule", "strokeWidth": 1.3},
   "encoding": {"x": {"field": "lx", "type": "quantitative", "scale": {"domain": [5164.03, 5190.0], "nice": false, "zero": false}, "axis": null},
    "y": {"datum": 2.80, "type": "quantitative", "scale": {"domain": [-0.1, 3.3], "nice": false, "zero": false}, "axis": null}, "y2": {"datum": 2.65},
    "color": {"field": "c", "type": "nominal", "scale": {"domain": ["k", "o"], "range": ["#555555", "#c9a050"]}, "legend": null}}},
  {"data": {"name": "tlab"}, "mark": {"type": "rule", "strokeWidth": 1.3},
   "encoding": {"x": {"field": "lx", "type": "quantitative", "scale": {"domain": [5164.03, 5190.0], "nice": false, "zero": false}, "axis": null}, "x2": {"field": "tx"},
    "y": {"datum": 2.65, "type": "quantitative", "scale": {"domain": [-0.1, 3.3], "nice": false, "zero": false}, "axis": null}, "y2": {"datum": 2.36},
    "color": {"field": "c", "type": "nominal", "scale": {"domain": ["k", "o"], "range": ["#555555", "#c9a050"]}, "legend": null}}},
  {"data": {"name": "tlab"}, "mark": {"type": "rule", "strokeWidth": 1.3},
   "encoding": {"x": {"field": "tx", "type": "quantitative", "scale": {"domain": [5164.03, 5190.0], "nice": false, "zero": false}, "axis": null},
    "y": {"datum": 2.36, "type": "quantitative", "scale": {"domain": [-0.1, 3.3], "nice": false, "zero": false}, "axis": null}, "y2": {"datum": 2.23},
    "color": {"field": "c", "type": "nominal", "scale": {"domain": ["k", "o"], "range": ["#555555", "#c9a050"]}, "legend": null}}},
  {"data": {"name": "tlab"}, "mark": {"type": "text", "fontSize": 20, "font": "Liberation Sans", "baseline": "alphabetic", "align": "center", "color": "#333"},
   "encoding": {"x": {"field": "lx", "type": "quantitative", "scale": {"domain": [5164.03, 5190.0], "nice": false, "zero": false}, "axis": null},
    "y": {"datum": 2.86, "type": "quantitative", "scale": {"domain": [-0.1, 3.3], "nice": false, "zero": false}, "axis": null}, "text": {"field": "n"}}},
  {"data": {"name": "tbar"}, "mark": {"type": "rect", "color": "#b8822a"},
   "encoding": {"x": {"field": "x1", "type": "quantitative", "scale": {"domain": [5164.03, 5190.0], "nice": false, "zero": false},
     "axis": {"orient": "bottom", "title": "Wavelength (Å)", "values": [5165,5166,5167,5168,5169,5170,5171,5172,5173,5174,5175,5176,5177,5178,5179,5180,5181,5182,5183,5184,5185,5186,5187,5188,5189,5190], "labelExpr": "datum.value % 5 === 0 ? format(datum.value, 'd') : ''", "tickSize": {"condition": {"test": "datum.value % 5 === 0", "value": -9}, "value": -5}, "labelPadding": 14, "titlePadding": -2}},
    "x2": {"field": "x2"},
    "y": {"datum": -0.13, "type": "quantitative", "scale": {"domain": [-0.1, 3.3], "nice": false, "zero": false},
     "axis": {"orient": "left", "title": "Residual Intensity", "values": [0,0.1,0.2,0.3,0.4,0.5,0.6,0.7,0.8,0.9,1,1.1,1.2,1.3,1.4,1.5,1.6,1.7,1.8,1.9,2,2.1,2.2,2.3,2.4,2.5,2.6,2.7,2.8,2.9,3,3.1,3.2], "labelExpr": "datum.value % 1 === 0 ? format(datum.value, 'd') : ''", "tickSize": {"condition": {"test": "datum.value % 1 === 0", "value": -10}, "value": -4}, "labelPadding": 19, "titlePadding": 10}},
    "y2": {"datum": -0.20}}}
 ],
 "resolve": {"axis": {"x": "independent", "y": "independent"}, "scale": {"color": "independent"}}
},
{
 "width": 1022, "height": 230,
 "layer": [
  {"data": {"name": "bspec"}, "transform": [{"fold": ["r", "g", "b", "m"], "as": ["s", "y"]}], "mark": {"type": "line", "color": "#111", "strokeWidth": 4, "interpolate": "monotone"},
   "encoding": {"x": {"field": "x", "type": "quantitative", "scale": {"domain": [5999.94, 6029.65], "nice": false, "zero": false}, "axis": null},
    "y": {"field": "y", "type": "quantitative", "scale": {"domain": [-0.1, 3.3], "nice": false, "zero": false}, "axis": null}, "detail": {"field": "s"}}},
  {"data": {"name": "bspec"}, "transform": [{"fold": ["r", "g", "b", "m"], "as": ["s", "y"]}], "mark": {"type": "line", "strokeWidth": 2, "interpolate": "monotone"},
   "encoding": {"x": {"field": "x", "type": "quantitative", "scale": {"domain": [5999.94, 6029.65], "nice": false, "zero": false}, "axis": null},
    "y": {"field": "y", "type": "quantitative", "scale": {"domain": [-0.1, 3.3], "nice": false, "zero": false}, "axis": null},
    "color": {"field": "s", "type": "nominal", "scale": {"domain": ["r", "g", "b", "m"], "range": ["#e83a2e", "#5f9e2c", "#3b76d6", "#b535c4"]}, "legend": null}}},
  {"data": {"name": "btick"}, "mark": {"type": "tick", "orient": "vertical", "size": 7, "thickness": 2, "color": "#111"},
   "encoding": {"x": {"field": "x", "type": "quantitative", "scale": {"domain": [5999.94, 6029.65], "nice": false, "zero": false},
     "axis": {"orient": "top", "labels": false, "title": null, "values": [6000,6001,6002,6003,6004,6005,6006,6007,6008,6009,6010,6011,6012,6013,6014,6015,6016,6017,6018,6019,6020,6021,6022,6023,6024,6025,6026,6027,6028,6029], "tickSize": {"condition": {"test": "datum.value % 5 === 0", "value": -9}, "value": -5}}},
    "y": {"field": "y", "type": "quantitative", "scale": {"domain": [-0.1, 3.3], "nice": false, "zero": false},
     "axis": {"orient": "right", "labels": false, "title": null, "values": [0,0.1,0.2,0.3,0.4,0.5,0.6,0.7,0.8,0.9,1,1.1,1.2,1.3,1.4,1.5,1.6,1.7,1.8,1.9,2,2.1,2.2,2.3,2.4,2.5,2.6,2.7,2.8,2.9,3,3.1,3.2], "tickSize": {"condition": {"test": "datum.value % 1 === 0", "value": -10}, "value": -4}}}}},
  {"data": {"name": "blab"}, "mark": {"type": "rule", "strokeWidth": 1.3},
   "encoding": {"x": {"field": "lx", "type": "quantitative", "scale": {"domain": [5999.94, 6029.65], "nice": false, "zero": false}, "axis": null},
    "y": {"datum": 2.80, "type": "quantitative", "scale": {"domain": [-0.1, 3.3], "nice": false, "zero": false}, "axis": null}, "y2": {"datum": 2.66},
    "color": {"field": "c", "type": "nominal", "scale": {"domain": ["k", "o"], "range": ["#555555", "#c9a050"]}, "legend": null}}},
  {"data": {"name": "blab"}, "mark": {"type": "rule", "strokeWidth": 1.3},
   "encoding": {"x": {"field": "lx", "type": "quantitative", "scale": {"domain": [5999.94, 6029.65], "nice": false, "zero": false}, "axis": null}, "x2": {"field": "tx"},
    "y": {"datum": 2.66, "type": "quantitative", "scale": {"domain": [-0.1, 3.3], "nice": false, "zero": false}, "axis": null}, "y2": {"datum": 2.37},
    "color": {"field": "c", "type": "nominal", "scale": {"domain": ["k", "o"], "range": ["#555555", "#c9a050"]}, "legend": null}}},
  {"data": {"name": "blab"}, "mark": {"type": "rule", "strokeWidth": 1.3},
   "encoding": {"x": {"field": "tx", "type": "quantitative", "scale": {"domain": [5999.94, 6029.65], "nice": false, "zero": false}, "axis": null},
    "y": {"datum": 2.37, "type": "quantitative", "scale": {"domain": [-0.1, 3.3], "nice": false, "zero": false}, "axis": null}, "y2": {"datum": 2.24},
    "color": {"field": "c", "type": "nominal", "scale": {"domain": ["k", "o"], "range": ["#555555", "#c9a050"]}, "legend": null}}},
  {"data": {"name": "blab"}, "mark": {"type": "text", "fontSize": 20, "font": "Liberation Sans", "baseline": "alphabetic", "align": "center", "color": "#333"},
   "encoding": {"x": {"field": "lx", "type": "quantitative", "scale": {"domain": [5999.94, 6029.65], "nice": false, "zero": false}, "axis": null},
    "y": {"datum": 2.86, "type": "quantitative", "scale": {"domain": [-0.1, 3.3], "nice": false, "zero": false}, "axis": null}, "text": {"field": "n"}}},
  {"data": {"name": "temps"}, "mark": {"type": "text", "fontSize": 21, "font": "DejaVu Sans", "baseline": "middle", "align": "left"},
   "encoding": {"x": {"datum": 6024.58, "type": "quantitative", "scale": {"domain": [5999.94, 6029.65], "nice": false, "zero": false}, "axis": null},
    "y": {"field": "y", "type": "quantitative", "scale": {"domain": [-0.1, 3.3], "nice": false, "zero": false}, "axis": null}, "text": {"field": "t"},
    "color": {"field": "t", "type": "nominal", "scale": {"domain": ["6223 K", "5770 K", "5277 K", "4744 K"], "range": ["#e3303c", "#2f9a55", "#4a3fc4", "#c03cc8"]}, "legend": null}}},
  {"data": {"name": "bbar"}, "mark": {"type": "rect", "color": "#b8822a"},
   "encoding": {"x": {"field": "x1", "type": "quantitative", "scale": {"domain": [5999.94, 6029.65], "nice": false, "zero": false},
     "axis": {"orient": "bottom", "title": "Wavelength (Å)", "values": [6000,6001,6002,6003,6004,6005,6006,6007,6008,6009,6010,6011,6012,6013,6014,6015,6016,6017,6018,6019,6020,6021,6022,6023,6024,6025,6026,6027,6028,6029], "labelExpr": "datum.value % 5 === 0 ? format(datum.value, 'd') : ''", "tickSize": {"condition": {"test": "datum.value % 5 === 0", "value": -9}, "value": -5}, "labelPadding": 15, "titlePadding": -2}},
    "x2": {"field": "x2"},
    "y": {"datum": -0.13, "type": "quantitative", "scale": {"domain": [-0.1, 3.3], "nice": false, "zero": false},
     "axis": {"orient": "left", "title": "Residual Intensity", "values": [0,0.1,0.2,0.3,0.4,0.5,0.6,0.7,0.8,0.9,1,1.1,1.2,1.3,1.4,1.5,1.6,1.7,1.8,1.9,2,2.1,2.2,2.3,2.4,2.5,2.6,2.7,2.8,2.9,3,3.1,3.2], "labelExpr": "datum.value % 1 === 0 ? format(datum.value, 'd') : ''", "tickSize": {"condition": {"test": "datum.value % 1 === 0", "value": -10}, "value": -4}, "labelPadding": 19, "titlePadding": 10}},
    "y2": {"datum": -0.20}}}
 ],
 "resolve": {"axis": {"x": "independent", "y": "independent"}, "scale": {"color": "independent"}}
}
]
}
